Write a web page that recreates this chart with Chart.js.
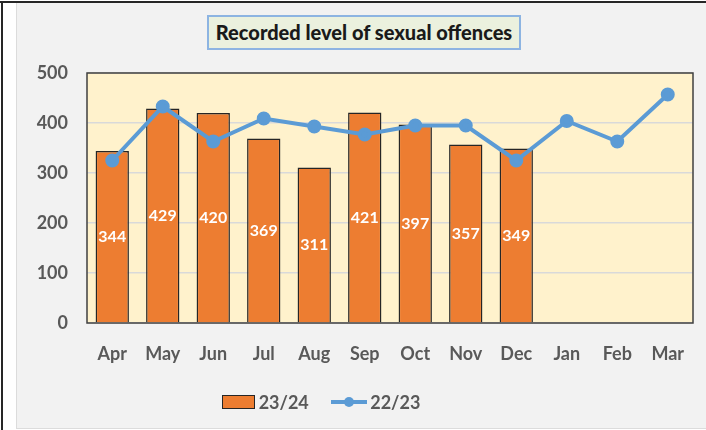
<!DOCTYPE html>
<html>
<head>
<meta charset="utf-8">
<script src="https://cdn.jsdelivr.net/npm/chart.js@4.4.1/dist/chart.umd.min.js"></script>
<style>
  html, body { margin: 0; padding: 0; background: #ffffff; }
  #wrap { position: relative; width: 706px; height: 430px; overflow: hidden; font-family: Lato, "Open Sans", sans-serif; }
  #edgeTop { position: absolute; left: 0; top: 1px; width: 706px; height: 2px; background: #262626; }
  #edgeLeft { position: absolute; left: 1px; top: 1px; width: 2px; height: 429px; background: #262626; }
  #panel { position: absolute; left: 16px; top: 3px; width: 690px; height: 425px; background: #f2f2f2; border-left: 1px solid #dcdcdc; border-bottom: 1px solid #dcdcdc; }
  #chartBox { position: absolute; left: 0; top: 0; width: 706px; height: 430px; }
  #title { position: absolute; left: 207px; top: 15px; width: 310px; height: 31px; background: #ebf1de; border: 2px solid #8db4e2;
           font-weight: 900; font-size: 20px; color: #1a1a1a; text-align: center; line-height: 31px; }
  #legend { position: absolute; top: 389px; left: -32px; width: 706px; text-align: center; font-weight: bold; font-size: 18px; color: #595959; }
  #legend span { display: inline-block; vertical-align: middle; }
  .swatchBar { width: 31px; height: 12px; background: #ed7d31; border: 1px solid #262626; margin-right: 4px; }
  .swatchLine { position: relative; width: 36px; height: 14px; margin: 0 3px 0 18px; }
  .swatchLine i { position: absolute; left: 0; top: 5px; width: 36px; height: 4px; background: #5b9bd5; }
  .swatchLine b { position: absolute; left: 13px; top: 2px; width: 10px; height: 10px; border-radius: 50%; background: #5b9bd5; }
</style>
</head>
<body>
<div id="wrap">
  <div id="edgeTop"></div>
  <div id="edgeLeft"></div>
  <div id="panel"></div>
  <div id="chartBox"><canvas id="offenceChart" width="706" height="430"></canvas></div>
  <div id="title">Recorded level of sexual offences</div>
  <div id="legend">
    <span class="swatchBar"></span><span>23/24</span>
    <span class="swatchLine"><i></i><b></b></span><span>22/23</span>
  </div>
</div>
<script>
let months = ["Apr", "May", "Jun", "Jul", "Aug", "Sep", "Oct", "Nov", "Dec", "Jan", "Feb", "Mar"];
let current = [344, 429, 420, 369, 311, 421, 397, 357, 349, null, null, null];
let previous = [325, 433, 363, 409, 393, 377, 395, 395, 325, 404, 363, 457];
let yTicks = [0, 100, 200, 300, 400, 500];

// plot area fill + frame, drawn under the bars
let plotFrame = {
    id: "plotFrame",
    beforeDraw(chart) {
        let a = chart.chartArea;
        let ctx = chart.ctx;
        ctx.save();
        ctx.fillStyle = "#fff2cc";
        ctx.fillRect(a.left, a.top, a.right - a.left, a.bottom - a.top);
        ctx.restore();
    },
    beforeDatasetsDraw(chart) {
        let a = chart.chartArea;
        let ctx = chart.ctx;
        ctx.save();
        ctx.strokeStyle = "#404040";
        ctx.lineWidth = 1.5;
        ctx.strokeRect(a.left, a.top, a.right - a.left, a.bottom - a.top);
        ctx.restore();
    }
};

// white value labels in the middle of each bar
let barLabels = {
    id: "barLabels",
    afterDatasetsDraw(chart) {
        let ctx = chart.ctx;
        let meta = chart.getDatasetMeta(1);
        ctx.save();
        ctx.fillStyle = "#ffffff";
        ctx.font = "bold 16px Lato";
        ctx.textAlign = "center";
        ctx.textBaseline = "middle";
        meta.data.forEach((bar, i) => {
            if (current[i] == null) return;
            ctx.fillText(current[i], bar.x, (bar.y + bar.base) / 2);
        });
        ctx.restore();
    }
};

let chart = new Chart(document.getElementById("offenceChart"), {
    data: {
        labels: months,
        datasets: [
            {
                type: "line",
                label: "22/23",
                data: previous,
                borderColor: "#5b9bd5",
                backgroundColor: "#5b9bd5",
                borderWidth: 4,
                pointRadius: 5,
                pointHoverRadius: 5,
                tension: 0,
                order: 0
            },
            {
                type: "bar",
                label: "23/24",
                data: current,
                backgroundColor: "#ed7d31",
                borderColor: "#262626",
                borderWidth: 1.5,
                barPercentage: 0.66,
                categoryPercentage: 1,
                order: 1
            }
        ]
    },
    options: {
        responsive: false,
        animation: false,
        layout: { padding: { top: 73, right: 13, bottom: 57, left: 0 } },
        plugins: {
            legend: { display: false },
            tooltip: { enabled: false }
        },
        scales: {
            x: {
                grid: { display: false, drawTicks: false },
                border: { display: false },
                ticks: { color: "#595959", font: { family: "Lato", size: 18, weight: "bold" }, padding: 20, maxRotation: 0, autoSkip: false },
                afterFit(scale) { scale.height = 50; }
            },
            y: {
                min: 0,
                max: 500,
                afterBuildTicks(scale) { scale.ticks = yTicks.map(v => ({ value: v })); },
                grid: { color: "#d9d9d9", lineWidth: 1.5, drawTicks: false },
                border: { display: false },
                ticks: { color: "#595959", font: { family: "Lato", size: 18, weight: "bold" }, padding: 19 },
                afterFit(scale) { scale.width = 87; }
            }
        }
    },
    plugins: [plotFrame, barLabels]
});
</script>
</body>
</html>
